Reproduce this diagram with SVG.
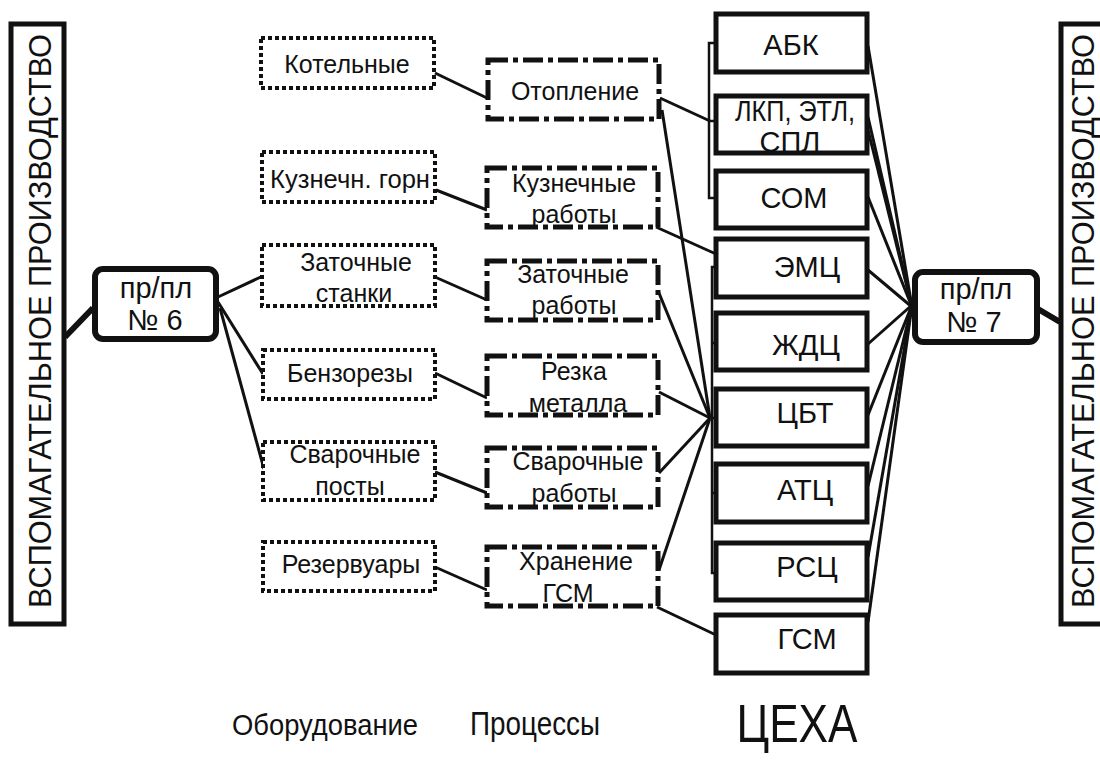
<svg xmlns="http://www.w3.org/2000/svg" width="1100" height="760" viewBox="0 0 1100 760">
<style>
text{font-family:"Liberation Sans",Arial,sans-serif;fill:#111;text-anchor:middle}
.eq{fill:#fff;stroke:#111;stroke-width:4;stroke-dasharray:4 3}
.pr{fill:#fff;stroke:#111;stroke-width:5;stroke-dasharray:20 5 5 5}
.ce{fill:#fff;stroke:#111;stroke-width:5}
.big{fill:#fff;stroke:#111;stroke-width:5}
.pp{fill:#fff;stroke:#111;stroke-width:6}
.t25{font-size:25px}
.t29{font-size:29px}
.ln{stroke:#111;stroke-width:3;fill:none}
.br{stroke:#111;stroke-width:2.5;fill:none}
.th{stroke:#111;stroke-width:6;fill:none}
</style>
<g id="connectors">
<line class="th" x1="65" y1="337" x2="93" y2="308"/>
<line class="th" x1="1038" y1="309" x2="1060" y2="322"/>
<line class="ln" x1="218" y1="297" x2="263" y2="276"/>
<line class="ln" x1="218" y1="302" x2="263" y2="374"/>
<line class="ln" x1="220" y1="308" x2="264" y2="469"/>
<line class="ln" x1="435" y1="73" x2="487" y2="98"/>
<line class="ln" x1="436" y1="190" x2="487" y2="210"/>
<line class="ln" x1="435" y1="277" x2="487" y2="300"/>
<line class="ln" x1="435" y1="373" x2="487" y2="398"/>
<line class="ln" x1="435" y1="472" x2="487" y2="493"/>
<line class="ln" x1="435" y1="567" x2="487" y2="590"/>
<line class="ln" x1="660" y1="98" x2="710" y2="121"/>
<line class="ln" x1="662" y1="110" x2="710" y2="418"/>
<line class="ln" x1="656" y1="227" x2="716" y2="254"/>
<line class="ln" x1="659" y1="293" x2="710" y2="418"/>
<line class="ln" x1="659" y1="392" x2="710" y2="418"/>
<line class="ln" x1="659" y1="473" x2="710" y2="418"/>
<line class="ln" x1="659" y1="570" x2="710" y2="418"/>
<line class="ln" x1="657" y1="607" x2="716" y2="635"/>
<polyline class="br" points="716,43 709,43 709,198 716,198"/>
<line class="br" x1="709" y1="121" x2="716" y2="121"/>
<polyline class="br" points="716,267 712,267 712,573 716,573"/>
<line class="br" x1="712" y1="343" x2="716" y2="343"/>
<line class="br" x1="712" y1="418" x2="716" y2="418"/>
<line class="br" x1="712" y1="493" x2="716" y2="493"/>
<line class="ln" x1="868" y1="46" x2="912" y2="307"/>
<line class="ln" x1="868" y1="117" x2="912" y2="307"/>
<line class="ln" x1="868" y1="130" x2="912" y2="307"/>
<line class="ln" x1="868" y1="197" x2="912" y2="307"/>
<line class="ln" x1="868" y1="270" x2="912" y2="307"/>
<line class="ln" x1="868" y1="344" x2="912" y2="305"/>
<line class="ln" x1="868" y1="415" x2="912" y2="305"/>
<line class="ln" x1="868" y1="486" x2="912" y2="305"/>
<line class="ln" x1="868" y1="557" x2="912" y2="305"/>
<line class="ln" x1="868" y1="622" x2="912" y2="305"/>
</g>
<g id="left-prod">
<rect class="big" x="11" y="24" width="53" height="600"/>
<text transform="translate(51,321) rotate(-90)" font-size="31" textLength="574" lengthAdjust="spacingAndGlyphs">ВСПОМАГАТЕЛЬНОЕ ПРОИЗВОДСТВО</text>
</g>
<g id="right-prod">
<rect class="big" x="1061" y="24" width="60" height="600"/>
<text transform="translate(1094,321) rotate(-90)" font-size="31" textLength="574" lengthAdjust="spacingAndGlyphs">ВСПОМАГАТЕЛЬНОЕ ПРОИЗВОДСТВО</text>
</g>
<g id="pp6">
<rect class="pp" x="95" y="269" width="121" height="70" rx="8"/>
<text class="t29" x="156" y="298">пр/пл</text>
<text class="t29" x="155" y="330">№ 6</text>
</g>
<g id="pp7">
<rect class="pp" x="915" y="272" width="122" height="70" rx="8"/>
<text class="t29" x="976" y="299">пр/пл</text>
<text class="t29" x="974" y="332">№ 7</text>
</g>
<g id="eq-kotelnye"><rect class="eq" x="261" y="38" width="173" height="50"/><text class="t25" x="347" y="73">Котельные</text></g>
<g id="eq-gorn"><rect class="eq" x="262" y="152" width="173" height="50"/><text class="t25" x="350" y="188" textLength="160" lengthAdjust="spacingAndGlyphs">Кузнечн. горн</text></g>
<g id="eq-zatoch"><rect class="eq" x="262" y="245" width="173" height="61"/><text class="t25" x="356" y="271">Заточные</text><text class="t25" x="354" y="302">станки</text></g>
<g id="eq-benzo"><rect class="eq" x="263" y="350" width="172" height="49"/><text class="t25" x="350" y="382">Бензорезы</text></g>
<g id="eq-svar"><rect class="eq" x="263" y="442" width="172" height="58"/><text class="t25" x="355" y="463">Сварочные</text><text class="t25" x="350" y="495">посты</text></g>
<g id="eq-rezerv"><rect class="eq" x="263" y="542" width="172" height="49"/><text class="t25" x="351" y="573">Резервуары</text></g>
<g id="pr-otop"><rect class="pr" x="488" y="60" width="171" height="59"/><text class="t25" x="575" y="100">Отопление</text></g>
<g id="pr-kuzn"><rect class="pr" x="487" y="168" width="171" height="59"/><text class="t25" x="574" y="192">Кузнечные</text><text class="t25" x="574" y="223">работы</text></g>
<g id="pr-zatoch"><rect class="pr" x="487" y="261" width="171" height="59"/><text class="t25" x="573" y="283">Заточные</text><text class="t25" x="574" y="314">работы</text></g>
<g id="pr-rezka"><rect class="pr" x="487" y="356" width="171" height="59"/><text class="t25" x="574" y="380">Резка</text><text class="t25" x="578" y="412">металла</text></g>
<g id="pr-svar"><rect class="pr" x="487" y="448" width="171" height="59"/><text class="t25" x="578" y="470">Сварочные</text><text class="t25" x="574" y="502">работы</text></g>
<g id="pr-hran"><rect class="pr" x="487" y="547" width="171" height="59"/><text class="t25" x="576" y="570">Хранение</text><text class="t25" x="568" y="602">ГСМ</text></g>
<g id="c-abk"><rect class="ce" x="716" y="14" width="151" height="58"/><text class="t29" x="791" y="55">АБК</text></g>
<g id="c-lkp"><rect class="ce" x="716" y="96" width="151" height="57"/><text class="t29" x="795" y="121" textLength="120" lengthAdjust="spacingAndGlyphs">ЛКП, ЭТЛ,</text><text class="t29" x="790" y="152">СПЛ</text></g>
<g id="c-som"><rect class="ce" x="716" y="171" width="151" height="57"/><text class="t29" x="794" y="208">СОМ</text></g>
<g id="c-emc"><rect class="ce" x="716" y="239" width="151" height="58"/><text class="t29" x="807" y="277">ЭМЦ</text></g>
<g id="c-zhdc"><rect class="ce" x="716" y="313" width="151" height="57"/><text class="t29" x="806" y="355">ЖДЦ</text></g>
<g id="c-cbt"><rect class="ce" x="716" y="389" width="151" height="57"/><text class="t29" x="805" y="423">ЦБТ</text></g>
<g id="c-atc"><rect class="ce" x="716" y="464" width="151" height="58"/><text class="t29" x="805" y="500">АТЦ</text></g>
<g id="c-rsc"><rect class="ce" x="716" y="543" width="151" height="57"/><text class="t29" x="807" y="577">РСЦ</text></g>
<g id="c-gsm"><rect class="ce" x="716" y="615" width="151" height="58"/><text class="t29" x="807" y="649">ГСМ</text></g>
<g id="labels">
<text x="325" y="735" font-size="29" textLength="186" lengthAdjust="spacingAndGlyphs">Оборудование</text>
<text x="535" y="735" font-size="33" textLength="130" lengthAdjust="spacingAndGlyphs">Процессы</text>
<text x="797" y="742" font-size="54" textLength="121" lengthAdjust="spacingAndGlyphs">ЦЕХА</text>
</g>
</svg>
